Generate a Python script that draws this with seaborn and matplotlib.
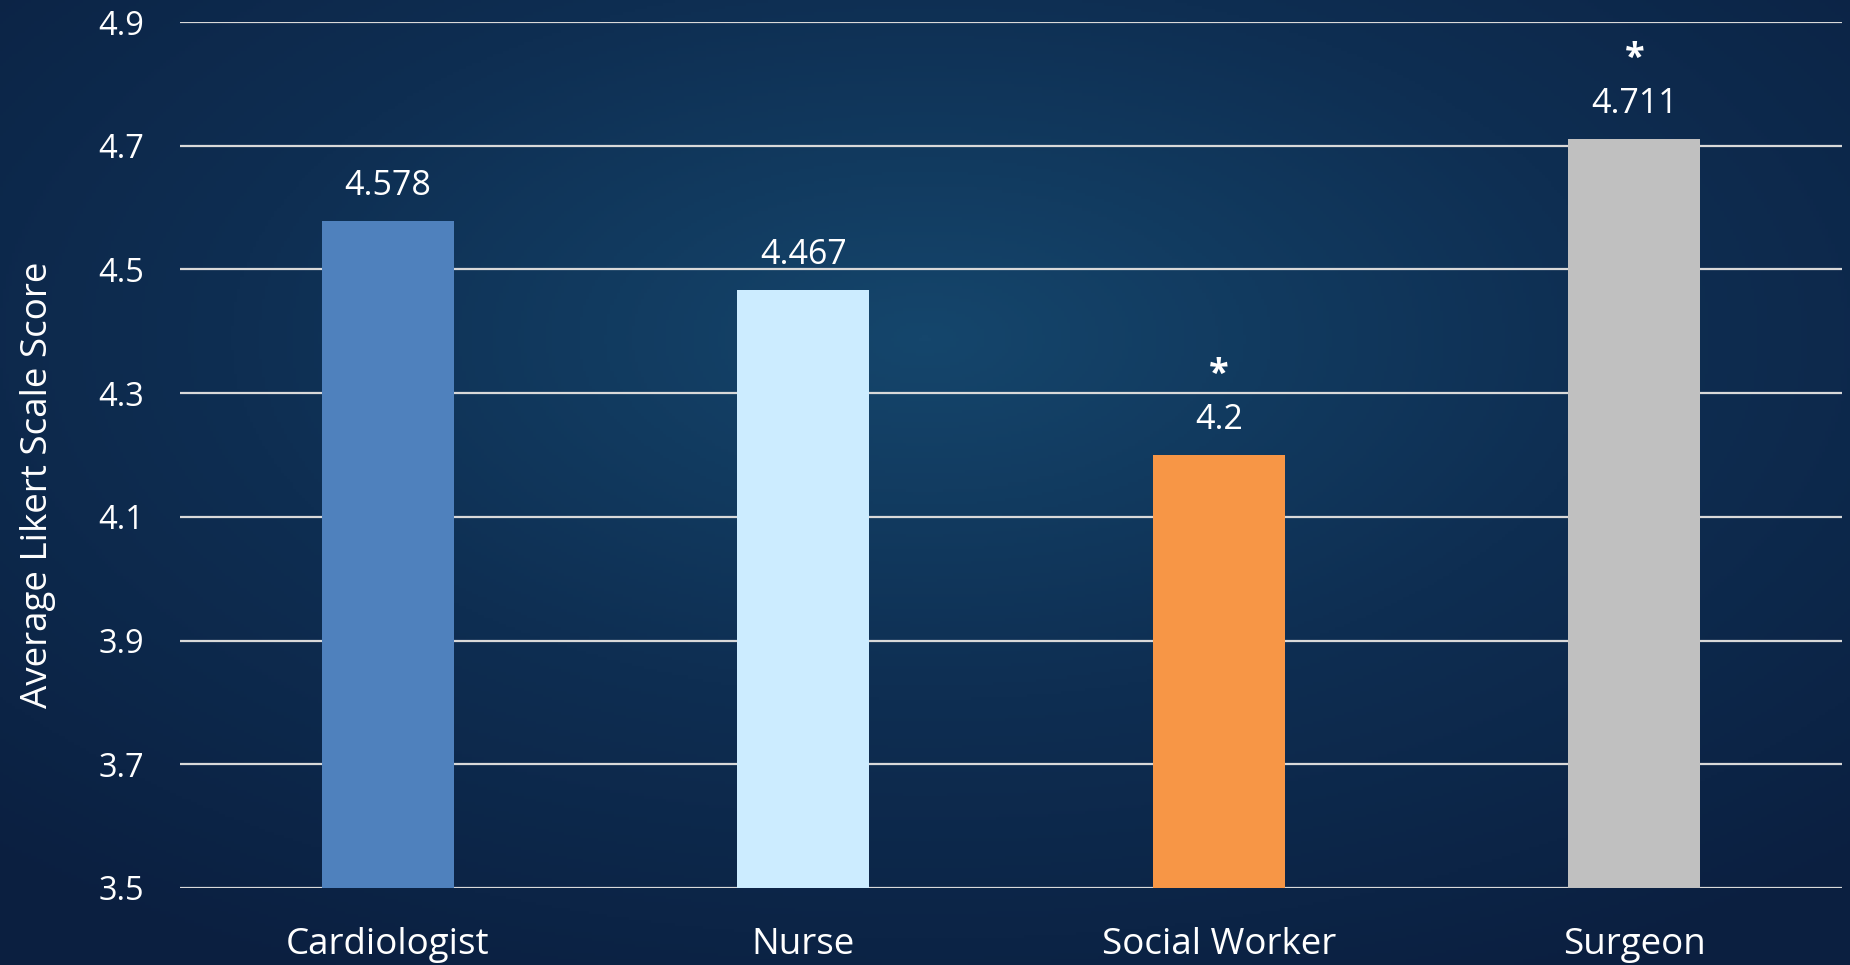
import numpy as np
import pandas as pd
import seaborn as sns
import matplotlib.pyplot as plt
from matplotlib.colors import LinearSegmentedColormap

# data
roles = ["Cardiologist", "Nurse", "Social Worker", "Surgeon"]
scores = [4.578, 4.467, 4.2, 4.711]
score_labels = ["4.578", "4.467", "4.2", "4.711"]
significant = [False, False, True, True]
bar_colors = ["#4F81BD", "#CCECFF", "#F79646", "#C0C0C0"]
yticks = [3.5, 3.7, 3.9, 4.1, 4.3, 4.5, 4.7, 4.9]

df = pd.DataFrame({"role": roles, "score": scores})

sns.set_theme(style="white")
plt.rcParams["font.family"] = ["Open Sans", "DejaVu Sans"]

fig = plt.figure(figsize=(18.5, 9.65), dpi=100)

# radial gradient background
bg = fig.add_axes([0, 0, 1, 1], zorder=-10)
xx, yy = np.meshgrid(np.linspace(0, 1, 600), np.linspace(0, 1, 320))
r = np.sqrt(((xx - 0.50) / 0.75) ** 2 + ((yy - 0.35) / 0.75) ** 2)
cmap = LinearSegmentedColormap.from_list("bg", ["#15466C", "#0E2E52", "#0B1F40"])
bg.imshow(np.clip(r, 0, 1), cmap=cmap, aspect="auto", extent=[0, 1, 1, 0], vmin=0, vmax=1)
bg.axis("off")

ax = fig.add_axes([0.0973, 0.0798, 0.8984, 0.8974])
ax.set_facecolor("none")
sns.barplot(data=df, x="role", y="score", hue="role", palette=bar_colors,
            width=0.318, legend=False, ax=ax, zorder=3, saturation=1, linewidth=0)

ax.set_ylim(3.5, 4.9)
ax.set_yticks(yticks)
ax.set_yticklabels([f"{t:.1f}" for t in yticks])
ax.set_xlim(-0.5, len(roles) - 0.5)
for t in yticks:
    ax.axhline(t, color="#D9D9D9", lw=1.6, zorder=1)

for i, (v, lab, sig) in enumerate(zip(scores, score_labels, significant)):
    ax.annotate(lab, (i, v), xytext=(0, 35), textcoords="offset pixels",
                ha="center", va="center", color="white", fontsize=24.5)
    if sig:
        ax.annotate("*", (i, v), xytext=(0, 80), textcoords="offset pixels",
                    ha="center", va="center", color="white", fontsize=26,
                    fontweight="bold")

for s in ax.spines.values():
    s.set_visible(False)
ax.tick_params(axis="y", length=0, pad=26, labelsize=23.5, labelcolor="white")
ax.tick_params(axis="x", length=0, pad=28, labelsize=26.5, labelcolor="white")
ax.set_xlabel("")
ax.set_ylabel("Average Likert Scale Score", color="white", fontsize=26.5, labelpad=30)
ax.yaxis.label.set_y(0.465)

fig.savefig("out.png", dpi=100)
